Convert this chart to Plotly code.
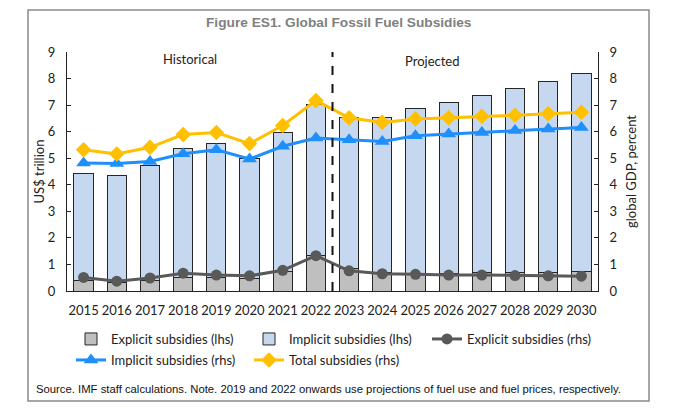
import plotly.graph_objects as go

# data
years = [str(y) for y in range(2015, 2031)]

explicit_lhs = [0.41, 0.33, 0.40, 0.52, 0.50, 0.47, 0.72, 1.33,
                0.84, 0.68, 0.65, 0.65, 0.70, 0.70, 0.70, 0.73]
total_lhs = [4.44, 4.34, 4.72, 5.36, 5.57, 5.00, 5.95, 7.04,
             6.52, 6.55, 6.86, 7.08, 7.36, 7.62, 7.90, 8.19]
implicit_lhs = [round(t - e, 2) for t, e in zip(total_lhs, explicit_lhs)]

explicit_rhs = [0.51, 0.37, 0.49, 0.67, 0.60, 0.57, 0.78, 1.33,
                0.76, 0.65, 0.63, 0.60, 0.60, 0.58, 0.57, 0.56]
implicit_rhs = [4.82, 4.80, 4.88, 5.17, 5.32, 4.97, 5.45, 5.76,
                5.70, 5.63, 5.85, 5.91, 5.97, 6.04, 6.10, 6.16]
total_rhs = [5.32, 5.16, 5.41, 5.89, 5.97, 5.55, 6.23, 7.17,
             6.52, 6.35, 6.48, 6.52, 6.58, 6.62, 6.67, 6.73]

FONT = "Lato"
OFF = 8  # page body margin in the browser
W, H = 680 - OFF, 417 - OFF
L, T = 67 - OFF, 52 - OFF
pw, ph = 531, 239
R, B = W - L - pw, H - T - ph


def px(x):
    # screen pixel -> paper x
    return (x - OFF - L) / pw


def py(y):
    # screen pixel -> paper y
    return (T + ph - (y - OFF)) / ph


fig = go.Figure()

fig.add_trace(go.Bar(x=years, y=explicit_lhs, name="Explicit subsidies (lhs)",
                     marker=dict(color="#bfbfbf", line=dict(color="#262626", width=1)),
                     width=0.58, legend="legend"))
fig.add_trace(go.Bar(x=years, y=implicit_lhs, name="Implicit subsidies (lhs)",
                     marker=dict(color="#c6d7f0", line=dict(color="#262626", width=1)),
                     width=0.58, legend="legend"))
fig.add_trace(go.Scatter(x=years, y=explicit_rhs, name="Explicit subsidies (rhs)",
                         yaxis="y2", mode="lines+markers",
                         line=dict(color="#595959", width=3),
                         marker=dict(symbol="circle", size=11, color="#595959"),
                         legend="legend"))
fig.add_trace(go.Scatter(x=years, y=implicit_rhs, name="Implicit subsidies (rhs)",
                         yaxis="y2", mode="lines+markers",
                         line=dict(color="#1f8ffc", width=3),
                         marker=dict(symbol="triangle-up", size=13, color="#1f8ffc"),
                         legend="legend2"))
fig.add_trace(go.Scatter(x=years, y=total_rhs, name="Total subsidies (rhs)",
                         yaxis="y2", mode="lines+markers",
                         line=dict(color="#ffc000", width=3),
                         marker=dict(symbol="diamond", size=12, color="#ffc000"),
                         legend="legend2"))

axis_font = dict(family=FONT, size=13, color="#222222")
legend_common = dict(orientation="h", entrywidth=133, entrywidthmode="pixels",
                     font=dict(family=FONT, size=13, color="#222222"),
                     bgcolor="rgba(0,0,0,0)", xanchor="left", yanchor="middle",
                     traceorder="normal", itemwidth=30)

fig.update_layout(
    width=W, height=H,
    margin=dict(l=L, r=R, t=T, b=B),
    paper_bgcolor="white", plot_bgcolor="white",
    barmode="stack",
    showlegend=True,
    xaxis=dict(type="category", range=[-0.5, 15.5], showline=True,
               linecolor="#222222", linewidth=1, ticks="", showgrid=False,
               tickfont=axis_font, ticklabelstandoff=7),
    yaxis=dict(range=[0, 9], dtick=1, showline=True, linecolor="#222222",
               linewidth=1, ticks="inside", ticklen=4, tickcolor="#222222",
               showgrid=False, zeroline=False, tickfont=axis_font,
               ticklabelstandoff=8,
               title=dict(text="US$ trillion", font=axis_font, standoff=0)),
    yaxis2=dict(range=[0, 9], dtick=1, overlaying="y", side="right",
                showline=True, linecolor="#222222", linewidth=1,
                ticks="inside", ticklen=4, tickcolor="#222222",
                showgrid=False, zeroline=False, tickfont=axis_font,
                ticklabelstandoff=8,
                title=dict(text="global GDP, percent", font=axis_font, standoff=10)),
    legend=dict(x=px(71), y=py(339), **legend_common),
    legend2=dict(x=px(71), y=py(360), **legend_common),
)

# historical / projected divider
fig.add_shape(type="line", xref="x", yref="y", x0=7.5, x1=7.5, y0=0, y1=9,
              line=dict(color="#111111", width=2, dash="dash"))

# outer frame
fig.add_shape(type="rect", xref="paper", yref="paper",
              x0=px(28), x1=px(649), y0=py(401), y1=py(10),
              line=dict(color="#8a8a8a", width=1.5))

fig.add_annotation(text="<b>Figure ES1. Global Fossil Fuel Subsidies</b>",
                   xref="paper", yref="paper", x=px(339), y=py(23),
                   xanchor="center", yanchor="middle", showarrow=False,
                   font=dict(family="Liberation Sans", size=13.7, color="#7f7f7f"))
fig.add_annotation(text="Historical", xref="paper", yref="paper",
                   x=px(190), y=py(59), xanchor="center", yanchor="middle",
                   showarrow=False,
                   font=dict(family=FONT, size=13, color="#222222"))
fig.add_annotation(text="Projected", xref="paper", yref="paper",
                   x=px(432), y=py(61), xanchor="center", yanchor="middle",
                   showarrow=False,
                   font=dict(family=FONT, size=13, color="#222222"))
fig.add_annotation(text="Source. IMF staff calculations. Note. 2019 and 2022 onwards use "
                        "projections of fuel use and fuel prices, respectively.",
                   xref="paper", yref="paper", x=px(34), y=py(389),
                   xanchor="left", yanchor="middle", showarrow=False,
                   font=dict(family="Liberation Sans", size=11.3, color="#111111"))

fig.write_html("out.html")
